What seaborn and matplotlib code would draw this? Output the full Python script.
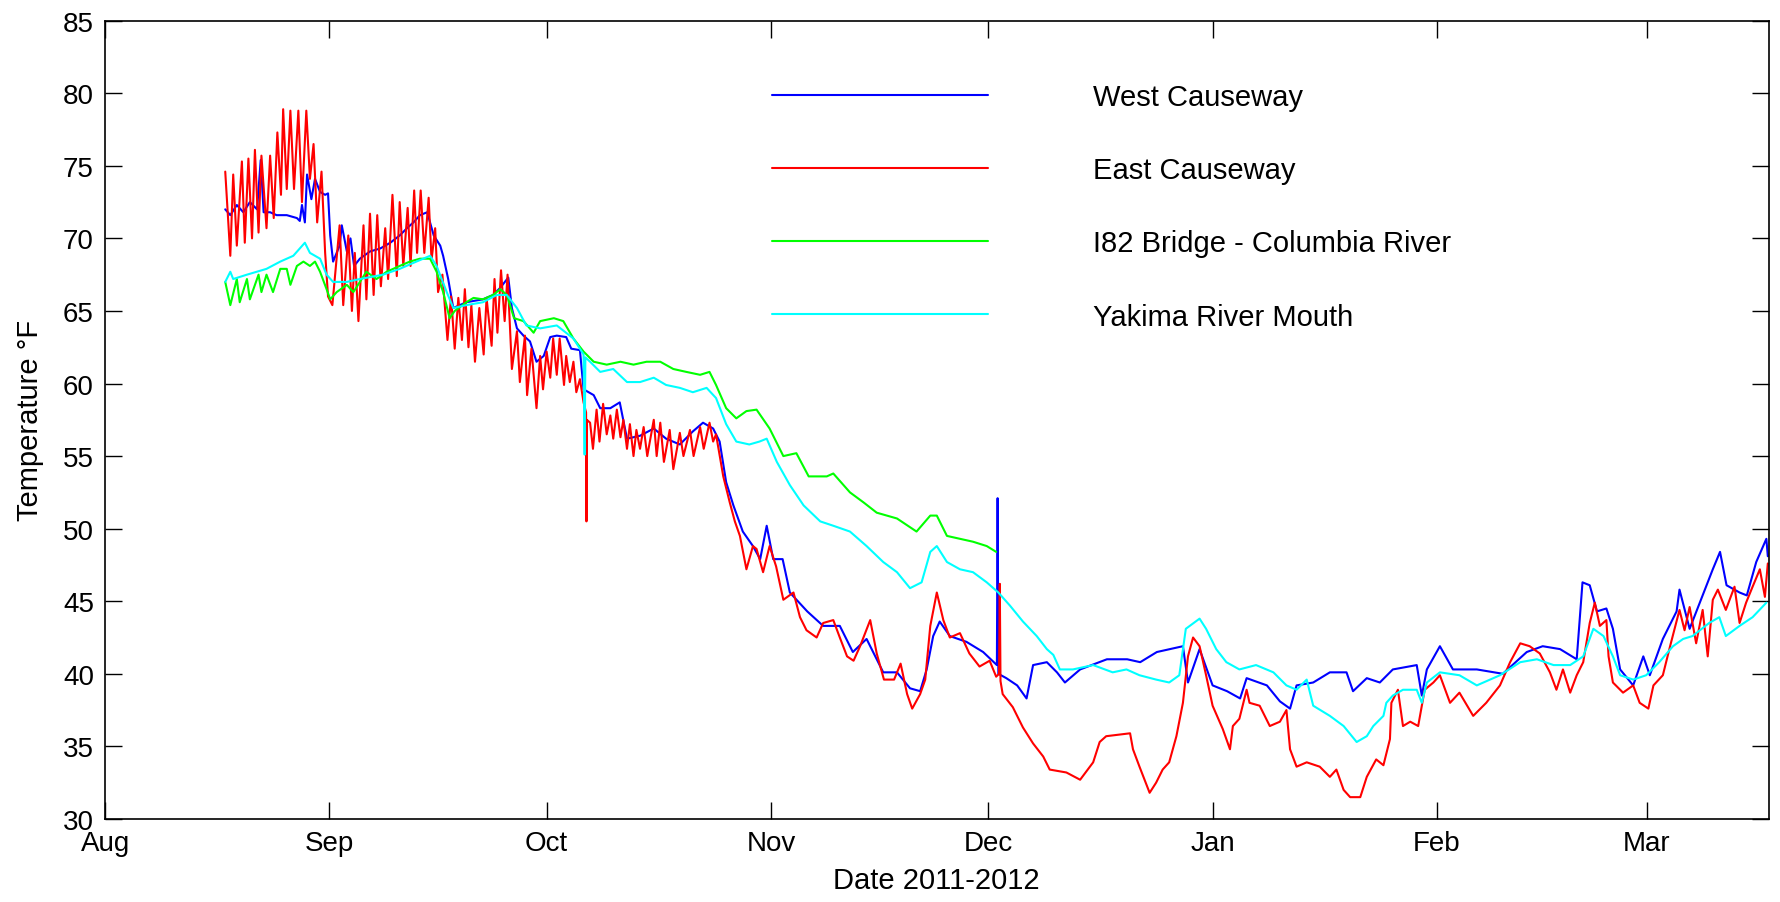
import matplotlib
matplotlib.use("Agg")
import matplotlib.pyplot as plt
import matplotlib.dates as mdates
import pandas as pd
import seaborn as sns

# day offsets from 1 Aug 2011, temperature in deg F
START = pd.Timestamp("2011-08-01")

west_causeway = [
    (16.6, 72.0), (17.3, 71.6), (18.2, 72.3), (19.1, 71.8), (20.0, 72.5), (21.0, 72.0),
    (21.5, 75.4), (21.9, 71.8), (22.8, 71.8), (23.7, 71.6), (25.1, 71.6), (26.5, 71.4),
    (26.9, 71.2), (27.2, 72.3), (27.6, 71.1), (27.9, 74.4), (28.5, 72.7), (29.0, 74.1),
    (29.7, 73.2), (30.4, 73.0), (30.8, 73.1), (31.1, 70.2), (31.5, 68.4), (32.4, 69.5),
    (32.7, 70.9), (33.4, 69.1), (33.9, 70.0), (34.4, 68.1), (35.2, 68.6), (36.6, 69.1),
    (38.0, 69.3), (39.4, 69.7), (40.7, 70.2), (41.7, 70.7), (42.6, 71.1), (43.5, 71.6),
    (44.5, 71.8), (45.4, 70.2), (46.3, 69.5), (46.7, 68.8), (47.4, 67.2), (48.1, 65.2),
    (49.9, 65.6), (52.2, 65.8), (53.6, 66.1), (54.6, 66.6), (55.7, 67.3), (56.2, 65.2),
    (56.9, 63.8), (57.8, 63.3), (58.7, 62.9), (59.6, 61.5), (60.6, 61.9), (61.5, 63.2),
    (62.4, 63.3), (63.7, 63.2), (64.4, 62.4), (65.6, 62.3), (66.1, 59.6), (67.5, 59.2),
    (68.4, 58.3), (69.8, 58.3), (71.1, 58.7), (72.1, 56.2), (73.9, 56.4), (75.8, 56.9),
    (77.5, 56.2), (79.4, 55.8), (81.2, 56.7), (82.6, 57.3), (84.0, 56.9), (84.9, 56.0),
    (85.8, 53.2), (86.8, 51.6), (88.1, 49.8), (89.5, 48.8), (90.5, 47.9), (91.4, 50.2),
    (92.3, 47.9), (93.6, 47.9), (94.6, 45.6), (97.0, 44.3), (99.2, 43.3), (101.5, 43.3),
    (103.3, 41.5), (105.2, 42.4), (107.5, 40.1), (109.4, 40.1), (111.2, 39.0), (112.6, 38.8),
    (113.5, 40.3), (114.4, 42.6), (115.3, 43.6), (116.7, 42.6), (119.0, 42.2), (121.3, 41.5),
    (123.2, 40.6), (123.3, 52.1), (123.4, 40.0), (124.5, 39.7), (126.0, 39.2), (127.3, 38.3),
    (128.2, 40.6), (130.1, 40.8), (131.5, 40.1), (132.6, 39.4), (134.7, 40.3), (138.4, 41.0),
    (141.2, 41.0), (143.0, 40.8), (145.3, 41.5), (148.9, 41.9), (149.6, 39.4), (151.2, 41.7),
    (153.0, 39.2), (155.0, 38.8), (156.8, 38.3), (157.7, 39.7), (160.5, 39.2), (162.3, 38.1),
    (163.7, 37.6), (164.6, 39.2), (166.9, 39.4), (169.2, 40.1), (171.5, 40.1), (172.4, 38.8),
    (174.3, 39.7), (176.1, 39.4), (177.9, 40.3), (181.2, 40.6), (181.9, 38.5), (182.6, 40.3),
    (184.4, 41.9), (186.2, 40.3), (189.5, 40.3), (193.1, 40.0), (196.4, 41.5), (198.6, 41.9),
    (201.0, 41.7), (203.3, 41.0), (204.1, 46.3), (205.1, 46.1), (206.1, 44.3), (207.4, 44.5),
    (208.3, 43.1), (209.3, 40.3), (211.1, 39.2), (212.5, 41.2), (213.4, 39.9), (215.2, 42.4),
    (217.1, 44.3), (217.5, 45.8), (218.9, 43.1), (220.7, 45.4), (222.1, 47.2), (223.1, 48.4),
    (224.0, 46.1), (225.8, 45.6), (226.8, 45.4), (228.1, 47.7), (229.5, 49.3), (229.7, 48.1),
]

east_causeway = [
    (16.6, 74.6), (17.3, 68.8), (17.7, 74.4), (18.2, 69.5), (18.9, 75.3), (19.3, 69.7),
    (19.8, 75.5), (20.3, 70.0), (20.7, 76.1), (21.2, 70.4), (21.6, 75.7), (22.3, 70.7),
    (22.8, 75.7), (23.3, 71.4), (23.8, 77.3), (24.3, 73.0), (24.6, 78.9), (25.1, 73.4),
    (25.6, 78.8), (26.1, 73.4), (26.7, 78.8), (27.2, 72.5), (27.8, 78.8), (28.3, 74.1),
    (28.8, 76.5), (29.3, 71.1), (29.9, 74.6), (30.4, 69.0), (30.8, 66.0), (31.4, 65.4),
    (32.4, 70.9), (32.9, 65.4), (33.6, 70.2), (34.1, 65.0), (34.5, 69.0), (35.0, 64.3),
    (35.7, 70.9), (36.1, 65.8), (36.6, 71.7), (37.1, 66.1), (37.6, 71.6), (38.1, 66.7),
    (38.7, 70.7), (39.1, 67.2), (39.7, 73.0), (40.3, 67.4), (40.7, 72.5), (41.2, 68.1),
    (41.8, 72.1), (42.2, 68.1), (42.7, 73.3), (43.1, 69.0), (43.6, 73.3), (44.1, 69.0),
    (44.7, 72.8), (45.1, 68.5), (45.6, 70.7), (46.0, 66.3), (46.6, 67.5), (47.3, 63.0),
    (47.8, 66.0), (48.3, 62.4), (48.8, 65.9), (49.3, 63.0), (49.7, 66.5), (50.2, 62.5),
    (50.6, 65.4), (51.1, 61.5), (51.7, 65.2), (52.3, 62.0), (52.7, 65.9), (53.4, 62.6),
    (53.8, 67.2), (54.2, 63.5), (54.7, 67.8), (55.2, 64.3), (55.6, 67.5), (56.2, 61.0),
    (56.9, 63.6), (57.3, 60.1), (58.0, 63.3), (58.3, 59.2), (58.9, 62.4), (59.6, 58.3),
    (60.1, 61.9), (60.5, 59.6), (61.0, 62.2), (61.5, 60.4), (61.9, 63.1), (62.4, 60.6),
    (62.8, 63.1), (63.4, 59.9), (63.7, 61.9), (64.2, 60.1), (64.7, 61.5), (65.1, 59.4),
    (65.6, 60.3), (66.1, 58.7), (66.45, 58.0), (66.5, 50.5), (66.55, 57.5), (67.0, 57.3),
    (67.4, 55.5), (67.9, 58.2), (68.3, 56.0), (68.8, 58.6), (69.3, 56.5), (69.8, 57.8),
    (70.2, 56.2), (70.7, 58.2), (71.2, 56.3), (71.6, 57.5), (72.1, 55.5), (72.5, 57.2),
    (73.0, 55.0), (73.4, 56.8), (73.9, 55.5), (74.4, 57.0), (74.9, 55.0), (75.8, 57.5),
    (76.2, 55.0), (76.7, 57.3), (77.2, 54.6), (78.0, 56.8), (78.5, 54.1), (79.4, 56.6),
    (79.9, 55.0), (80.8, 56.8), (81.3, 55.0), (82.2, 57.0), (82.7, 55.5), (83.5, 57.3),
    (84.0, 56.0), (84.4, 56.5), (85.4, 53.6), (86.3, 51.8), (87.0, 50.5), (87.7, 49.5),
    (88.6, 47.2), (89.5, 48.8), (90.0, 48.6), (90.9, 47.0), (91.8, 48.8), (92.7, 47.4),
    (93.7, 45.1), (95.1, 45.6), (96.0, 43.9), (96.9, 43.0), (98.3, 42.5), (99.2, 43.5),
    (100.6, 43.7), (101.5, 42.5), (102.5, 41.2), (103.4, 40.9), (104.3, 41.9), (105.7, 43.7),
    (106.6, 41.4), (107.6, 39.6), (109.0, 39.6), (109.9, 40.7), (110.8, 38.6), (111.5, 37.6),
    (112.6, 38.6), (113.3, 39.6), (114.0, 43.3), (114.9, 45.6), (115.8, 43.7), (116.7, 42.5),
    (118.1, 42.8), (119.4, 41.4), (120.8, 40.5), (122.2, 40.9), (123.1, 39.8), (123.5, 40.0),
    (123.6, 46.2), (123.7, 39.5), (124.0, 38.6), (125.4, 37.7), (126.8, 36.3), (128.2, 35.2),
    (129.6, 34.3), (130.5, 33.4), (132.8, 33.2), (134.7, 32.7), (136.5, 33.9), (137.4, 35.3),
    (138.3, 35.7), (141.6, 35.9), (142.0, 34.8), (142.9, 33.6), (144.3, 31.8), (145.2, 32.5),
    (146.1, 33.4), (147.0, 33.9), (148.0, 35.7), (148.9, 38.0), (149.6, 41.2), (150.3, 42.5),
    (151.2, 41.9), (152.1, 39.9), (153.0, 37.8), (154.4, 36.2), (155.4, 34.8), (155.8, 36.4),
    (156.7, 36.9), (157.7, 38.9), (158.1, 38.0), (159.5, 37.8), (160.9, 36.4), (162.3, 36.7),
    (163.2, 37.5), (163.7, 34.8), (164.6, 33.6), (166.0, 33.9), (167.8, 33.6), (169.2, 32.9),
    (170.1, 33.4), (171.1, 32.0), (172.0, 31.5), (173.4, 31.5), (174.3, 32.9), (175.6, 34.1),
    (176.6, 33.7), (177.5, 35.5), (177.7, 38.0), (178.6, 38.9), (179.3, 36.4), (180.3, 36.7),
    (181.4, 36.4), (182.3, 38.9), (183.5, 39.4), (184.4, 39.9), (185.8, 38.0), (187.1, 38.7),
    (189.0, 37.1), (190.8, 38.0), (192.7, 39.2), (194.1, 40.8), (195.5, 42.1), (196.8, 41.9),
    (198.2, 41.4), (199.6, 40.1), (200.5, 38.9), (201.4, 40.3), (202.4, 38.7), (203.3, 39.9),
    (204.2, 40.8), (205.1, 43.5), (205.8, 44.9), (206.5, 43.3), (207.4, 43.7), (207.7, 41.2),
    (208.3, 39.4), (209.7, 38.7), (211.1, 39.2), (212.0, 38.0), (213.2, 37.6), (213.9, 39.2),
    (215.2, 39.9), (216.2, 41.9), (217.5, 44.4), (218.2, 43.0), (218.9, 44.6), (219.8, 42.1),
    (220.7, 44.4), (221.4, 41.2), (222.1, 45.1), (222.8, 45.8), (223.9, 44.4), (225.1, 46.0),
    (225.8, 43.5), (226.7, 44.9), (227.6, 46.0), (228.6, 47.2), (229.3, 45.3), (229.7, 47.6),
]

i82_bridge = [
    (16.6, 67.0), (17.3, 65.4), (18.2, 67.2), (18.6, 65.6), (19.6, 67.2), (20.0, 65.8),
    (21.2, 67.5), (21.6, 66.3), (22.3, 67.5), (23.2, 66.3), (24.2, 67.9), (25.1, 67.9),
    (25.6, 66.8), (26.5, 68.1), (27.4, 68.4), (28.3, 68.1), (29.0, 68.4), (29.7, 67.7),
    (30.6, 66.5), (31.1, 65.8), (32.0, 66.3), (33.4, 66.8), (34.3, 66.3), (36.1, 67.7),
    (37.5, 67.2), (38.9, 67.7), (40.7, 68.1), (42.1, 68.4), (43.5, 68.6), (44.9, 68.6),
    (45.8, 67.7), (46.7, 66.3), (47.6, 64.5), (48.3, 65.0), (49.9, 65.6), (50.9, 65.9),
    (52.2, 65.8), (53.6, 66.1), (54.6, 66.5), (55.5, 66.1), (56.5, 64.5), (57.8, 64.3),
    (59.2, 63.5), (60.1, 64.3), (62.0, 64.5), (63.3, 64.3), (64.7, 63.1), (66.1, 62.2),
    (67.5, 61.5), (69.3, 61.3), (71.2, 61.5), (73.0, 61.3), (74.8, 61.5), (76.7, 61.5),
    (78.5, 61.0), (80.3, 60.8), (82.2, 60.6), (83.5, 60.8), (84.4, 59.9), (85.8, 58.3),
    (87.2, 57.6), (88.6, 58.1), (90.0, 58.2), (91.8, 56.9), (93.7, 55.0), (95.5, 55.2),
    (97.2, 53.6), (99.7, 53.6), (100.6, 53.8), (102.9, 52.5), (104.8, 51.8), (106.6, 51.1),
    (109.4, 50.7), (112.1, 49.8), (114.0, 50.9), (114.9, 50.9), (116.3, 49.5), (118.1, 49.3),
    (119.9, 49.1), (121.8, 48.8), (123.1, 48.4),
]

yakima_mouth = [
    (16.6, 67.0), (17.3, 67.7), (17.7, 67.2), (19.6, 67.5), (22.3, 67.9), (24.2, 68.4),
    (26.0, 68.8), (27.6, 69.7), (28.3, 69.0), (29.7, 68.6), (30.6, 67.5), (31.5, 67.0),
    (33.4, 67.0), (35.2, 67.2), (38.4, 67.5), (40.7, 67.9), (43.0, 68.4), (44.9, 68.8),
    (45.8, 68.1), (47.2, 66.3), (48.1, 65.2), (49.9, 65.4), (52.2, 65.6), (54.1, 66.1),
    (55.5, 66.1), (56.9, 65.2), (58.2, 64.0), (60.1, 63.8), (62.4, 64.0), (64.7, 63.1),
    (66.1, 62.0), (66.25, 55.1), (66.35, 61.8), (67.0, 61.5), (68.4, 60.8), (70.2, 61.0),
    (72.1, 60.1), (73.9, 60.1), (75.8, 60.4), (77.5, 59.9), (79.4, 59.7), (81.2, 59.4),
    (83.1, 59.7), (84.4, 59.0), (85.8, 57.2), (87.2, 56.0), (89.0, 55.8), (90.4, 56.0),
    (91.4, 56.2), (92.8, 54.6), (94.6, 53.0), (96.5, 51.6), (98.8, 50.5), (100.6, 50.2),
    (102.9, 49.8), (105.2, 48.8), (107.5, 47.7), (109.4, 47.0), (111.2, 45.9), (112.8, 46.3),
    (114.0, 48.4), (114.9, 48.8), (116.3, 47.7), (118.1, 47.2), (119.9, 47.0), (121.8, 46.3),
    (123.4, 45.6), (125.0, 44.7), (126.8, 43.6), (128.7, 42.6), (130.1, 41.7), (131.0, 41.3),
    (131.9, 40.3), (133.7, 40.3), (136.5, 40.6), (139.2, 40.1), (141.1, 40.3), (142.9, 39.9),
    (145.2, 39.6), (147.0, 39.4), (148.4, 39.9), (149.3, 43.1), (151.2, 43.8), (152.1, 43.1),
    (153.5, 41.7), (154.9, 40.8), (156.7, 40.3), (159.0, 40.6), (161.4, 40.1), (163.2, 39.2),
    (164.6, 38.9), (166.0, 39.6), (166.9, 37.8), (169.2, 37.1), (171.1, 36.4), (172.9, 35.3),
    (174.3, 35.7), (175.2, 36.4), (176.6, 37.1), (177.0, 38.0), (177.9, 38.5), (179.3, 38.9),
    (181.2, 38.9), (181.9, 38.0), (182.6, 39.4), (184.4, 40.1), (187.1, 39.9), (189.5, 39.2),
    (192.7, 39.9), (195.5, 40.8), (197.8, 41.0), (200.1, 40.6), (202.4, 40.6), (204.2, 41.2),
    (205.6, 43.1), (207.0, 42.6), (208.3, 41.2), (209.3, 39.9), (211.1, 39.6), (212.9, 39.9),
    (214.7, 40.8), (216.6, 41.9), (218.0, 42.4), (219.3, 42.6), (221.6, 43.5), (223.0, 43.9),
    (223.9, 42.6), (225.8, 43.3), (227.6, 43.9), (229.5, 44.9),
]

site_names = ["West Causeway", "East Causeway", "I82 Bridge - Columbia River", "Yakima River Mouth"]
site_colors = ["#0000ff", "#ff0000", "#00ff00", "#00ffff"]

sns.set_theme(style="ticks", rc={"text.color": "black", "axes.labelcolor": "black",
                                 "xtick.color": "black", "ytick.color": "black",
                                 "axes.edgecolor": "black"})
plt.rcParams["font.family"] = ["Liberation Sans", "DejaVu Sans"]

fig = plt.figure(figsize=(17.81, 9.03), dpi=100)
ax = fig.add_axes([0.059, 0.092, 0.934, 0.884])

for pts, name, col in zip([west_causeway, east_causeway, i82_bridge, yakima_mouth],
                          site_names, site_colors):
    df = pd.DataFrame(pts, columns=["day", "temp"])
    df["date"] = START + pd.to_timedelta(df["day"], unit="D")
    sns.lineplot(data=df, x="date", y="temp", color=col, linewidth=1.5,
                 label=name, estimator=None, sort=False, ax=ax)

# axes, matlab look
ax.set_xlim(START.to_pydatetime(), (START + pd.Timedelta(days=229.8)).to_pydatetime())
ax.set_ylim(30, 85)
ax.set_yticks(range(30, 86, 5))
ax.xaxis.set_major_locator(mdates.MonthLocator())
ax.xaxis.set_major_formatter(mdates.DateFormatter("%b"))
ax.tick_params(direction="in", length=12, width=1, top=True, right=True,
               labelsize=20, colors="black", pad=8)
for s in ax.spines.values():
    s.set_linewidth(1.2)
    s.set_color("black")

ax.set_xlabel("Date 2011-2012", fontsize=21, labelpad=7, color="black")
ax.set_ylabel("Temperature \u00b0F", fontsize=21, labelpad=14, color="black")

leg = ax.legend(loc="upper left", bbox_to_anchor=(0.401, 0.922), frameon=False,
                fontsize=21, handlelength=7.4, handletextpad=3.6, labelspacing=1.55,
                borderpad=0, borderaxespad=0)
for t in leg.get_texts():
    t.set_color("black")

fig.savefig("out.png", dpi=100)
